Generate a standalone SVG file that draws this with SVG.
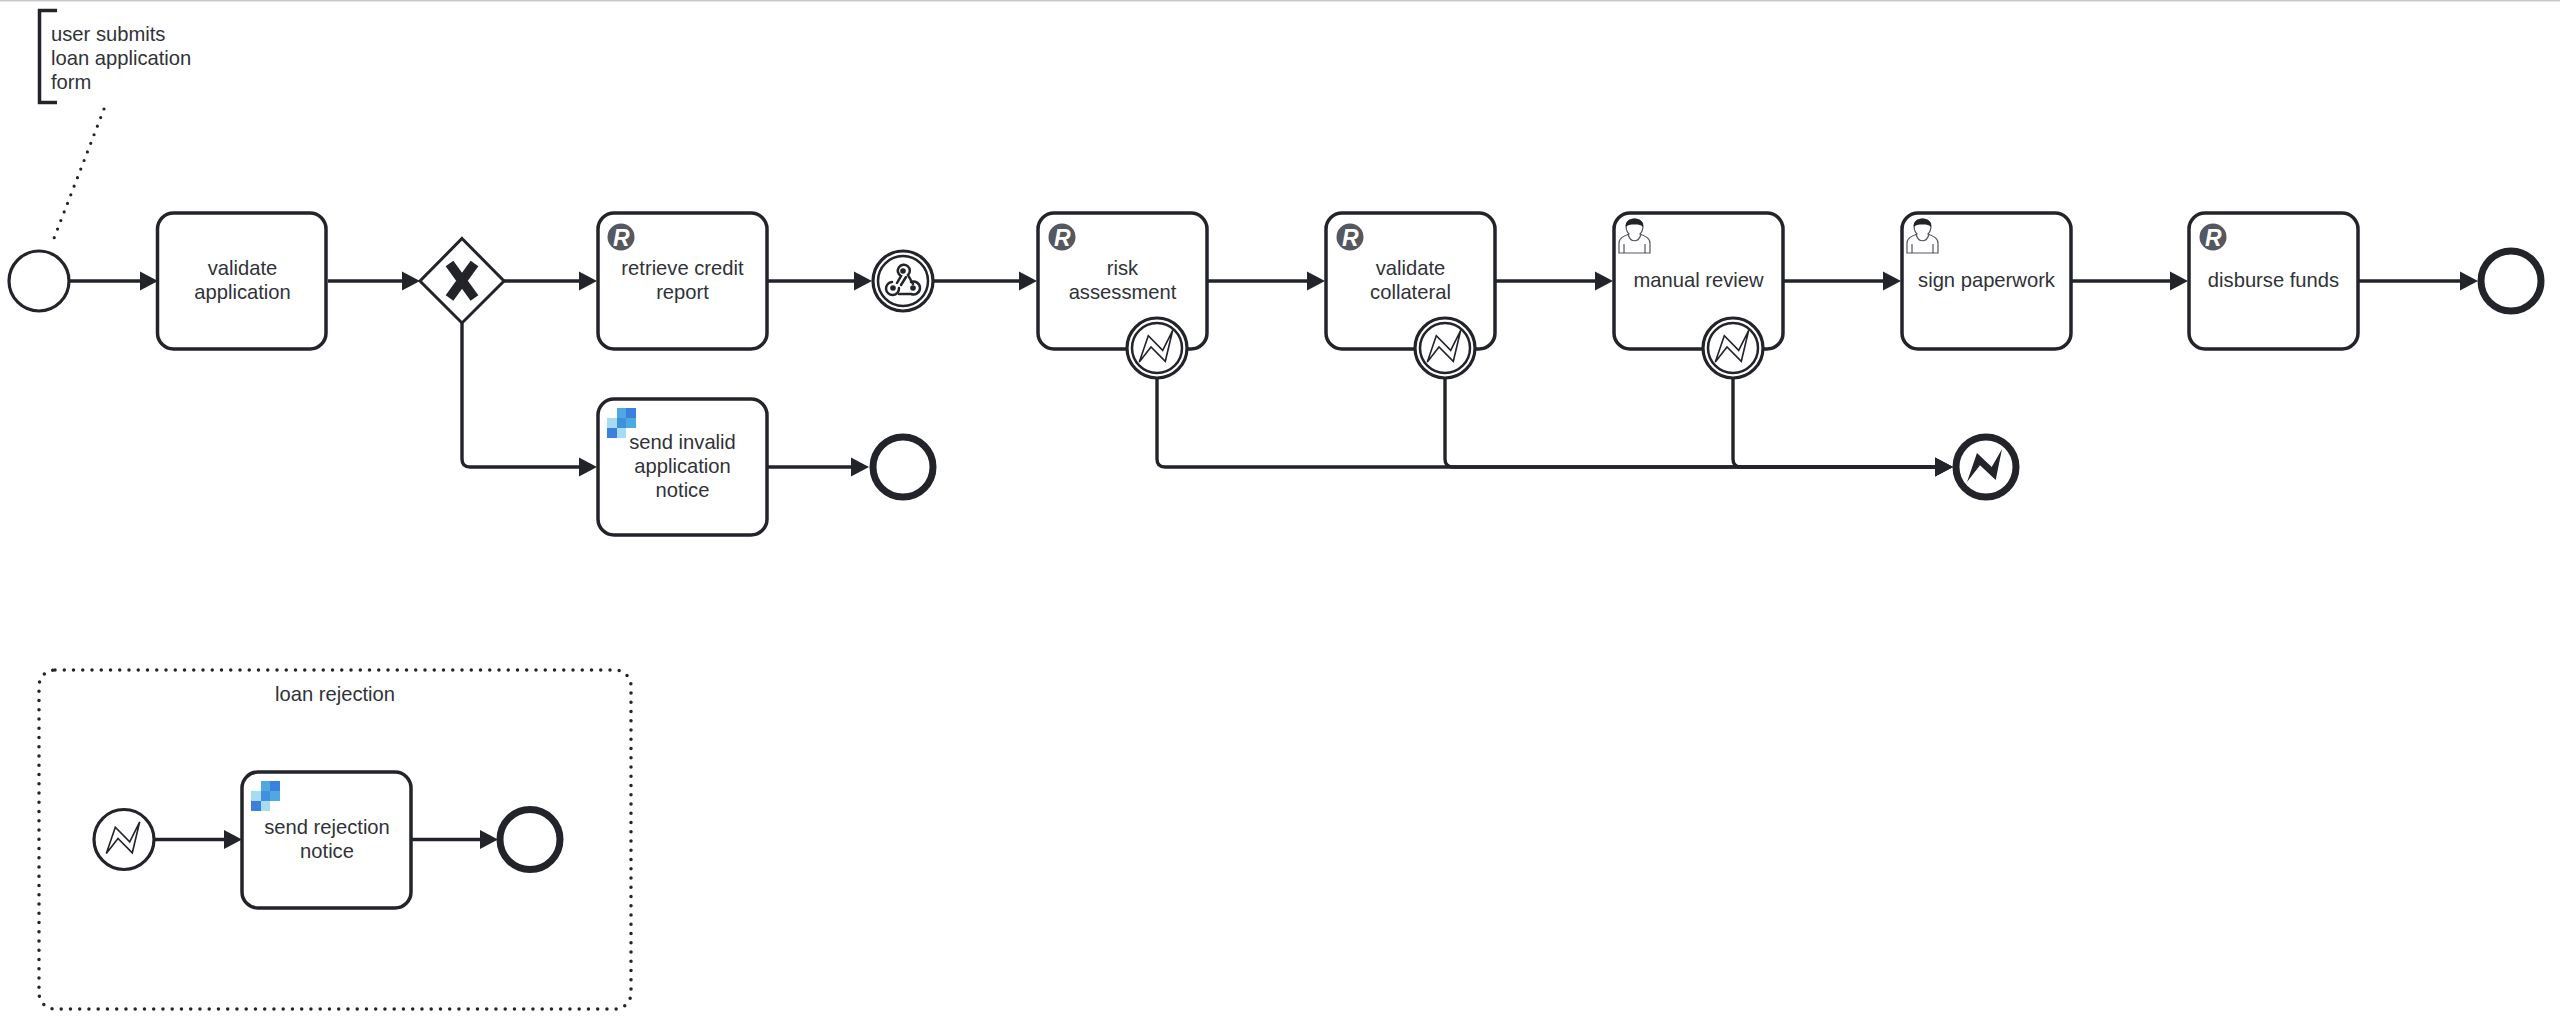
<svg xmlns="http://www.w3.org/2000/svg" width="2560" height="1031" viewBox="0 0 2560 1031">
<style>
text{font-family:"Liberation Sans",Arial,sans-serif;font-size:20.200px;fill:#303238}
.c{text-anchor:middle}
.task{fill:#fff;stroke:#22242a;stroke-width:3.500}
.ev{fill:#fff;stroke:#22242a;stroke-width:3.200}
.end{fill:#fff;stroke:#22242a;stroke-width:7}
.flow{fill:none;stroke:#22242a;stroke-width:3.400;marker-end:url(#arrow)}
.bolt{fill:none;stroke:#22242a;stroke-width:1.600;stroke-linejoin:miter}
.r{font-family:"Liberation Sans",Arial,sans-serif;font-size:23px;font-weight:bold;font-style:italic;fill:#fff}
</style>
<defs>
<marker id="arrow" markerUnits="userSpaceOnUse" markerWidth="20" markerHeight="20" refX="13" refY="9.500" orient="auto" overflow="visible"><path d="M0 0L18 9.500L0 19Z" fill="#22242a"/></marker>
<g id="ri"><circle r="13.500" fill="#55585e"/></g>
<g id="send">
<rect x="10" y="0" width="19" height="20" fill="#4fa8e0"/>
<rect x="19" y="0" width="10" height="10" fill="#3b7fdf"/>
<rect x="0" y="10" width="10" height="10" fill="#a6dcf2"/>
<rect x="10" y="10" width="9" height="10" fill="#3f90dd"/>
<rect x="0" y="20" width="10" height="10" fill="#3b7fdf"/>
<rect x="10" y="20" width="9" height="10" fill="#a6dcf2"/>
</g>
<g id="user">
<path d="M0 24V14C0 9 5 7 10 5C8 3 7 0 7-3C7-7 11-10 15.500-10C20-10 24-7 24-3C24 0 23 3 21 5C26 7 31 9 31 14V24Z" fill="#fff" stroke="#55585e" stroke-width="1.200"/>
<path d="M7-2C6-7 10-10.500 15.500-10.500C21-10.500 25-7 24-2C22-4 20-4.500 15.500-4.500C11-4.500 9-4 7-2Z" fill="#22242a"/>
<path d="M5 15V24M26 15V24M9 5C11 14 20 14 22 5" fill="none" stroke="#55585e" stroke-width="1.200"/>
</g>
<path id="boltp" d="M-17.700 14L-8.700-12.300L5.700 2.300L15.700-17.700L8.300 13.300L-6-1Z"/>
</defs>

<rect id="top-edge" x="0" y="0" width="2560" height="1.500" fill="#c8c8c8"/>

<g id="connectors">
<path class="flow" d="M69 281H153"/>
<path class="flow" d="M328 281H415"/>
<path class="flow" d="M504 281H592"/>
<path class="flow" d="M767 281H867"/>
<path class="flow" d="M934 281H1032"/>
<path class="flow" d="M1208 281H1320"/>
<path class="flow" d="M1496 281H1608"/>
<path class="flow" d="M1784 281H1896"/>
<path class="flow" d="M2072 281H2183"/>
<path class="flow" d="M2359 281H2473"/>
<path class="flow" d="M462 323V459Q462 467 470 467H592"/>
<path class="flow" d="M767 467H864"/>
<path class="flow" d="M1157 379V459Q1157 467 1165 467H1948"/>
<path class="flow" d="M1445 379V459Q1445 467 1453 467H1948"/>
<path class="flow" d="M1733 379V459Q1733 467 1741 467H1948"/>
<path class="flow" d="M155 839.500H237"/>
<path class="flow" d="M412 839.500H493"/>
<path d="M104 109L51 246" fill="none" stroke="#22242a" stroke-width="3.200" stroke-linecap="round" stroke-dasharray="0 9.200"/>
</g>

<g id="annotation">
<path d="M57 10.500H39.500V102.500H57" fill="none" stroke="#22242a" stroke-width="3.500"/>
<text x="51" y="41">user submits</text>
<text x="51" y="65">loan application</text>
<text x="51" y="89">form</text>
</g>

<g id="start"><circle class="ev" cx="39" cy="281" r="30"/></g>

<g id="validate-application">
<rect class="task" x="157.500" y="213" width="168.500" height="136" rx="16"/>
<text class="c" x="242.500" y="275">validate</text>
<text class="c" x="242.500" y="299">application</text>
</g>

<g id="gateway">
<path d="M462 238.500L504 281L462 323L420 281Z" fill="#fff" stroke="#22242a" stroke-width="3"/>
<path d="M449.500 263.500L474.500 298M474.500 263.500L449.500 298" fill="none" stroke="#22242a" stroke-width="9.500"/>
</g>

<g id="retrieve-credit-report">
<rect class="task" x="598" y="213" width="169" height="136" rx="16"/>
<use href="#ri" x="621" y="237"/><text class="r" x="613" y="245.500">R</text>
<text class="c" x="682.500" y="275">retrieve credit</text>
<text class="c" x="682.500" y="299">report</text>
</g>

<g id="send-invalid-application-notice">
<rect class="task" x="598" y="399" width="169" height="136" rx="16"/>
<use href="#send" x="607" y="408"/>
<text class="c" x="682.500" y="449">send invalid</text>
<text class="c" x="682.500" y="473">application</text>
<text class="c" x="682.500" y="497">notice</text>
</g>

<g id="webhook-event">
<circle class="ev" cx="903" cy="281" r="30"/>
<circle cx="903" cy="281" r="25" fill="none" stroke="#22242a" stroke-width="2.500"/>
<g fill="none" stroke="#22242a" stroke-width="2.500" stroke-linecap="round">
<path d="M897 283L901 276A6 6 0 1 1 908 275L913 284"/>
<path d="M911 282A6.500 6.500 0 1 1 911 294H899"/>
<path d="M906 277L901 285 M899 288A6.500 6.500 0 1 1 892 282"/>
</g>
<circle cx="903" cy="271" r="2.800" fill="#22242a"/><circle cx="893" cy="288" r="2.800" fill="#22242a"/><circle cx="913" cy="288" r="2.800" fill="#22242a"/>
</g>

<g id="invalid-end"><circle class="end" cx="903" cy="467" r="30"/></g>

<g id="risk-assessment">
<rect class="task" x="1038" y="213" width="169" height="136" rx="16"/>
<use href="#ri" x="1062" y="237"/><text class="r" x="1054" y="245.500">R</text>
<text class="c" x="1122.500" y="275">risk</text>
<text class="c" x="1122.500" y="299">assessment</text>
</g>
<g id="risk-boundary">
<circle class="ev" cx="1157" cy="348" r="30"/>
<circle cx="1157" cy="348" r="25" fill="none" stroke="#22242a" stroke-width="2.500"/>
<use href="#boltp" class="bolt" x="1157" y="348"/>
</g>

<g id="validate-collateral">
<rect class="task" x="1326" y="213" width="169" height="136" rx="16"/>
<use href="#ri" x="1350" y="237"/><text class="r" x="1342" y="245.500">R</text>
<text class="c" x="1410.500" y="275">validate</text>
<text class="c" x="1410.500" y="299">collateral</text>
</g>
<g id="collateral-boundary">
<circle class="ev" cx="1445" cy="348" r="30"/>
<circle cx="1445" cy="348" r="25" fill="none" stroke="#22242a" stroke-width="2.500"/>
<use href="#boltp" class="bolt" x="1445" y="348"/>
</g>

<g id="manual-review">
<rect class="task" x="1614" y="213" width="169" height="136" rx="16"/>
<use href="#user" x="1619" y="229"/>
<text class="c" x="1698.500" y="287">manual review</text>
</g>
<g id="manual-boundary">
<circle class="ev" cx="1733" cy="348" r="30"/>
<circle cx="1733" cy="348" r="25" fill="none" stroke="#22242a" stroke-width="2.500"/>
<use href="#boltp" class="bolt" x="1733" y="348"/>
</g>

<g id="sign-paperwork">
<rect class="task" x="1902" y="213" width="169" height="136" rx="16"/>
<use href="#user" x="1907" y="229"/>
<text class="c" x="1986.500" y="287">sign paperwork</text>
</g>

<g id="disburse-funds">
<rect class="task" x="2189" y="213" width="169" height="136" rx="16"/>
<use href="#ri" x="2213" y="237"/><text class="r" x="2205" y="245.500">R</text>
<text class="c" x="2273.500" y="287">disburse funds</text>
</g>

<g id="end"><circle class="end" cx="2511" cy="281" r="30"/></g>

<g id="error-end">
<circle class="end" cx="1986" cy="467" r="30"/>
<path d="M-19 15L-9-14L5.700 0L16-18L9.700 13L-6-1.700Z" transform="translate(1986 467)" fill="#22242a"/>
</g>

<g id="loan-rejection">
<rect x="39" y="670" width="592" height="339" rx="16" fill="none" stroke="#22242a" stroke-width="3.500" stroke-linecap="round" stroke-dasharray="0 9.250"/>
<text class="c" x="335" y="701">loan rejection</text>
</g>

<g id="error-start">
<circle class="ev" cx="124" cy="839.500" r="30"/>
<use href="#boltp" class="bolt" x="124" y="839.500"/>
</g>

<g id="send-rejection-notice">
<rect class="task" x="242" y="772" width="169" height="136" rx="16"/>
<use href="#send" x="251" y="781"/>
<text class="c" x="327" y="834">send rejection</text>
<text class="c" x="327" y="858">notice</text>
</g>

<g id="rejection-end"><circle class="end" cx="530" cy="839.500" r="30"/></g>
</svg>
